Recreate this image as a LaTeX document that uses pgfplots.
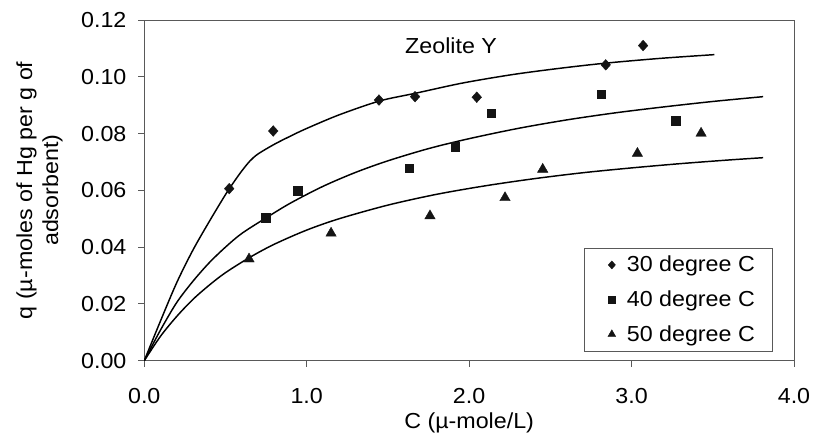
\documentclass[border=0pt]{standalone}
\usepackage{fontspec}
\setmainfont[FakeStretch=1.07]{Liberation Sans}
\usepackage{pgfplots}
\pgfplotsset{compat=1.18}
\newcommand{\myfont}{\fontsize{16.3}{19.5}\selectfont}
\definecolor{axgray}{gray}{0.35}
\definecolor{mk}{gray}{0.08}
\begin{document}
\begin{tikzpicture}
\begin{axis}[
  scale only axis, width=487.3pt, height=255.5pt,
  at={(0pt,0pt)}, anchor=south west,
  xmin=0, xmax=4, ymin=0, ymax=0.12,
  xtick={0,1,2,3,4},
  ytick={0,0.02,0.04,0.06,0.08,0.10,0.12},
  scaled y ticks=false, scaled x ticks=false,
  xtick pos=bottom, ytick pos=left,
  tick align=outside, major tick length=4.5pt,
  axis line style={draw=axgray, line width=0.75pt},
  every tick/.style={draw=axgray, line width=0.75pt},
  /pgf/number format/assume math mode=true,
  x tick label style={font=\myfont, inner sep=0pt, yshift=-16.2pt,
    /pgf/number format/fixed, /pgf/number format/fixed zerofill, /pgf/number format/precision=1},
  y tick label style={font=\myfont, inner sep=0pt, xshift=-8.7pt,
    /pgf/number format/fixed, /pgf/number format/fixed zerofill, /pgf/number format/precision=2},
  xlabel={C (µ-mole/L)},
  xlabel style={font=\myfont, at={([yshift=-38.5pt]axis description cs:0.5,0)}, anchor=north, inner sep=0pt},
  ylabel={q (µ-moles of Hg per g of\\adsorbent)},
  ylabel style={font=\myfont, align=center, at={([xshift=-78.6pt]axis description cs:0,0.5)}, anchor=center, inner sep=0pt},
  legend style={at={(rel axis cs:1,0)}, anchor=south east, xshift=-15.5pt, yshift=6.75pt,
    draw=axgray, line width=0.75pt, font=\myfont, inner xsep=13.5pt, inner ysep=6pt,
    row sep=12.7pt, nodes={inner sep=0pt}, column sep=0pt},
  legend cell align=left,
  legend image code/.code={\path[draw=none, fill=none] (-7pt,0pt) -- (11.25pt,0pt);
    \draw[#1, every mark/.append style={scale=0.75}] plot coordinates {(0pt,0pt)};},
]
% fitted curves
\addplot[black, line width=1.1pt, smooth, tension=0.5, forget plot] coordinates {
 (0,0) (0.1,0.0140) (0.2,0.0275) (0.3,0.0390) (0.4,0.0490) (0.5,0.0585)
 (0.55,0.0628) (0.6,0.0668) (0.65,0.0703) (0.7,0.0728) (0.8,0.0762) (0.9,0.0791)
 (1.0,0.0818) (1.2,0.0866) (1.45,0.0915) (1.67,0.0942) (1.96,0.0978) (2.27,0.1008)
 (2.56,0.1030) (2.84,0.1048) (3.18,0.1065) (3.51,0.1078)};
\addplot[black, line width=1.1pt, smooth, tension=0.5, forget plot] coordinates {
 (0,0) (0.1,0.0108) (0.2,0.0205) (0.3,0.0280) (0.4,0.0345) (0.5,0.0400) (0.6,0.0448)
 (0.75,0.0503) (0.9,0.0555) (1.1,0.0614) (1.3,0.0663) (1.5,0.0704) (1.75,0.0747)
 (2.0,0.0782) (2.3,0.0818) (2.6,0.0848) (2.9,0.0873) (3.2,0.0894) (3.5,0.0913) (3.81,0.0930)};
\addplot[black, line width=1.1pt, smooth, tension=0.5, forget plot] coordinates {
 (0,0) (0.1,0.0086) (0.2,0.0156) (0.3,0.0216) (0.4,0.0266) (0.5,0.0310) (0.65,0.0364)
 (0.8,0.0410) (1.0,0.0460) (1.2,0.0500) (1.5,0.0548) (1.8,0.0586) (2.1,0.0616)
 (2.4,0.0641) (2.7,0.0662) (3.0,0.0679) (3.3,0.0694) (3.6,0.0707) (3.81,0.0715)};
% data
\addplot[only marks, mark=diamond*, mark size=4pt, mark options={draw=mk, fill=mk, line width=0.3pt, xscale=1.2}] coordinates {
 (0.523,0.0606) (0.794,0.0809) (1.445,0.0918) (1.667,0.0930) (2.047,0.0928) (2.841,0.1042) (3.071,0.1110)};
\addlegendentry{30 degree C}
\addplot[only marks, mark=square*, mark size=3.2pt, mark options={draw=mk, fill=mk, line width=0.3pt}] coordinates {
 (0.747,0.0503) (0.944,0.0598) (1.630,0.0678) (1.913,0.0754) (2.135,0.0871) (2.812,0.0938) (3.272,0.0845)};
\addlegendentry{40 degree C}
\addplot[only marks, mark=triangle*, mark size=4.5pt, mark options={draw=mk, fill=mk, line width=0.3pt}] coordinates {
 (0.645,0.0358) (1.150,0.0449) (1.759,0.0510) (2.221,0.0574) (2.453,0.0674) (3.036,0.0730) (3.428,0.0801)};
\addlegendentry{50 degree C}
\node[font=\myfont, inner sep=0pt] at (axis cs:1.889,0.1108) {Zeolite Y};
\end{axis}
\pgfresetboundingbox
\path (-108.2pt,-62.5pt) rectangle (502.3pt,270.5pt);
\end{tikzpicture}
\end{document}
